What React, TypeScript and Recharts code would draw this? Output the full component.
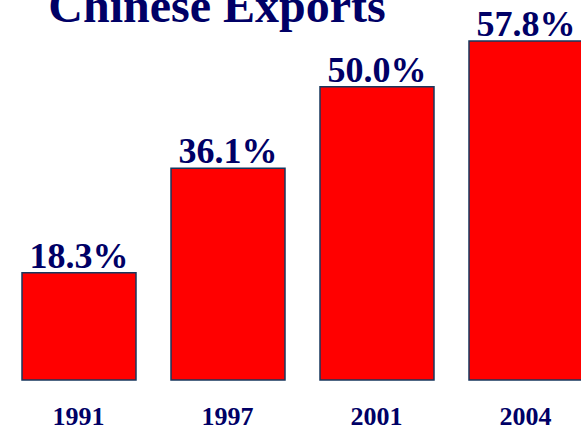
import React from "react";
import { BarChart, Bar, XAxis, YAxis, LabelList } from "recharts";

// Share of foreign-invested enterprises in Chinese exports, by year.
const years = ["1991", "1997", "2001", "2004"];
const shares = [18.3, 36.1, 50.0, 57.8];

const data = years.map((year, i) => ({ year, share: shares[i] }));

const NAVY = "#000066";
const FONT = '"Liberation Serif", "Times New Roman", serif';

function YearTick({ x, y, payload }: any) {
  return (
    <text
      x={x}
      y={y + 45}
      textAnchor="middle"
      fontFamily={FONT}
      fontWeight="bold"
      fontSize={26}
      fill={NAVY}
    >
      {payload.value}
    </text>
  );
}

function ValueLabel({ x, y, width, value }: any) {
  return (
    <text
      x={x + width / 2}
      y={y - 5}
      textAnchor="middle"
      fontFamily={FONT}
      fontWeight="bold"
      fontSize={36}
      fill={NAVY}
    >
      {Number(value).toFixed(1)}%
    </text>
  );
}

export default function App() {
  return (
    <div
      style={{
        position: "absolute",
        left: 0,
        top: 0,
        width: 581,
        height: 429,
        overflow: "hidden",
        background: "#fff",
      }}
    >
      <div
        style={{
          position: "absolute",
          left: 0,
          top: -18,
          width: 434,
          textAlign: "center",
          fontFamily: FONT,
          fontWeight: "bold",
          fontSize: 48,
          lineHeight: "48px",
          color: NAVY,
          whiteSpace: "nowrap",
        }}
      >
        Chinese Exports
      </div>
      <BarChart
        width={600}
        height={429}
        data={data}
        margin={{ top: 28, right: 0, bottom: 0, left: 4 }}
      >
        <XAxis
          dataKey="year"
          axisLine={false}
          tickLine={false}
          tickSize={0}
          tickMargin={0}
          height={49}
          tick={<YearTick />}
          interval={0}
        />
        <YAxis hide domain={[0, 60]} />
        <Bar
          dataKey="share"
          barSize={114}
          fill="#FF0000"
          stroke="#17375E"
          strokeWidth={1.5}
          isAnimationActive={false}
        >
          <LabelList dataKey="share" content={<ValueLabel />} />
        </Bar>
      </BarChart>
    </div>
  );
}
